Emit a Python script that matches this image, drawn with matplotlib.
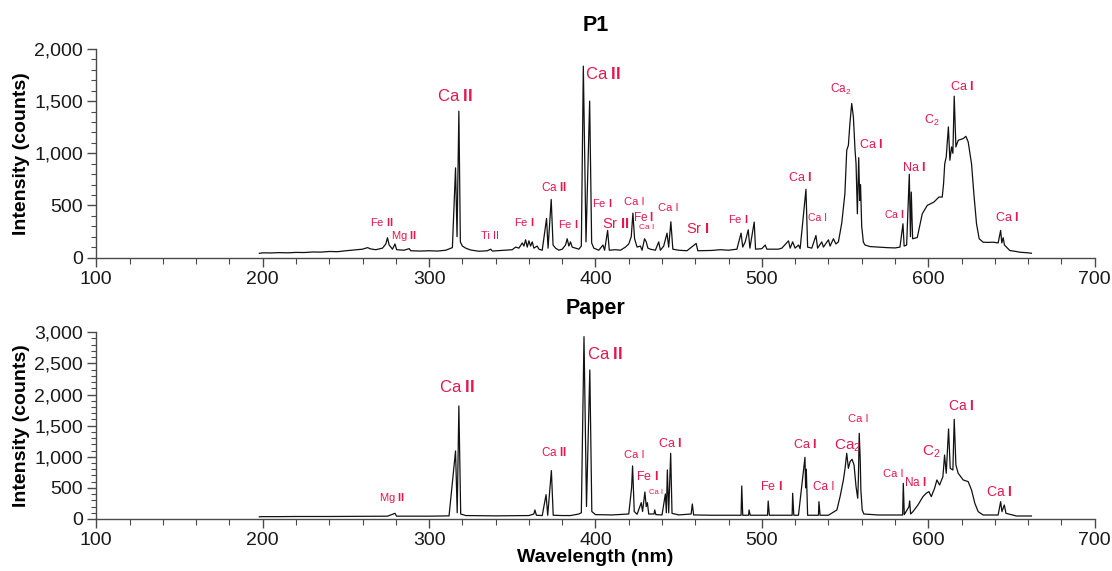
import matplotlib
matplotlib.use("Agg")
import matplotlib.pyplot as plt
from matplotlib.ticker import MultipleLocator, FuncFormatter

plt.rcParams['font.family'] = ['Liberation Sans', 'DejaVu Sans']
plt.rcParams['mathtext.fontset'] = 'custom'
plt.rcParams['mathtext.rm'] = 'Liberation Sans'
plt.rcParams['mathtext.bf'] = 'Liberation Sans:bold'
plt.rcParams['mathtext.it'] = 'Liberation Sans:italic'

# ---------------- data: P1 spectrum ----------------
wl_p1 = [198, 200, 205, 210, 215, 220, 225, 230, 235, 240, 245, 250, 255, 260, 263, 265, 268, 272, 274, 275, 276, 278,
         279.5, 280.5, 285, 288, 289, 295, 300, 305, 310, 314, 315.9, 316.8, 317.9, 318.8,
         320, 322, 325, 330, 335, 337, 338, 345, 350, 352, 354, 356, 357, 358, 359, 360,
         361, 362, 363, 365, 366, 368, 370.6, 371.5, 373.4, 374.5, 376, 378, 380, 382,
         383, 384, 385, 386, 388, 390, 391.5, 392.7, 394.3, 396.5, 397.7, 399, 402, 404.5,
         405.5, 407.3, 408.3, 412, 415, 418, 420, 421.5, 422.5, 423.5, 425, 427, 428,
         429.5, 430.5, 431.5, 433, 436, 438, 439, 441, 443, 444, 445.3, 446.5, 450, 455,
         460.5, 461.5, 470, 475, 480, 485, 487.5, 488.5, 490, 491.8, 492.8, 495.4, 496.2, 500,
         502, 503, 510, 512, 516, 517, 518.5, 520, 522, 523, 526.5, 527.5, 530, 532.5,
         533.5, 536, 537, 540, 541, 543, 544.5, 546, 548, 549.9, 551, 552, 552.9, 554,
         555, 556, 556.6, 557.4, 558.2, 558.8, 559.3, 560, 561, 562, 565, 570, 575, 580,
         583, 584.8, 585.5, 587, 588.6, 589.3, 589.8, 590.6, 593.4, 596.4, 599.4, 603.4,
         606.4, 608.4, 609.2, 609.9, 610.8, 612.1, 613, 614, 614.8, 615.6, 616.6, 618,
         621, 622.6, 624, 626, 627.4, 629, 630.6, 633, 636, 639, 642, 643.5, 644.2, 645,
         645.8, 649, 652, 655, 660, 662]
int_p1 = [40, 45, 44, 47, 45, 49, 48, 53, 52, 58, 56, 65, 72, 80, 95, 82, 75, 90, 130, 190, 120, 80,
          130, 75, 70, 85, 65, 62, 65, 62, 70, 95, 860, 200, 1404, 150,
          110, 90, 72, 60, 65, 80, 62, 70, 75, 100, 90, 140, 110, 170, 100, 160,
          110, 150, 90, 110, 80, 70, 375, 90, 557, 120, 90, 70, 80, 120,
          180, 110, 150, 100, 90, 80, 110, 1836, 150, 1500, 140, 90, 70, 120,
          70, 260, 70, 75, 70, 100, 130, 200, 426, 180, 100, 110, 70,
          180, 150, 90, 80, 70, 150, 70, 110, 234, 100, 343, 80, 70, 65,
          135, 65, 68, 75, 70, 80, 234, 100, 150, 266, 90, 340, 80, 85,
          120, 80, 80, 90, 160, 90, 150, 90, 120, 85, 654, 100, 90, 211,
          90, 150, 100, 170, 110, 180, 130, 150, 330, 612, 1029, 1077, 1285, 1478,
          1349, 1029, 900, 420, 958, 548, 700, 300, 147, 120, 105, 100, 95, 92,
          100, 324, 110, 120, 798, 200, 628, 180, 192, 420, 500, 532,
          580, 580, 708, 900, 965, 1253, 933, 1061, 1000, 1548, 1061, 1125,
          1141, 1163, 1109, 900, 612, 324, 180, 147, 145, 147, 140, 260, 140, 190,
          120, 67, 60, 51, 45, 41]

# ---------------- data: Paper spectrum ----------------
wl_paper = [198, 200, 210, 220, 240, 260, 275, 279.5, 280.5, 300, 312, 315.9, 316.9, 317.9,
            319, 322, 340, 360, 363, 363.6, 364.5, 368, 370.3, 371.3, 373.5, 374.6, 380,
            385, 390, 391.5, 393.1, 394.6, 396.6, 397.8, 400, 410, 420, 421.7, 422.3,
            423.3, 425, 427.5, 428.3, 429.7, 430.5, 431.2, 432, 435.2, 435.6, 436.3, 440,
            442, 442.6, 443.2, 444, 445.2, 446, 450, 457.5, 458.2, 459, 470, 480, 487.5,
            487.9, 488.5, 492, 492.3, 493, 500, 503.4, 503.8, 504.5, 515, 518.2, 518.5,
            519.2, 522, 525.9, 526.3, 526.7, 527.5, 530, 534, 534.3, 535, 540, 545.1, 547,
            549, 550, 551, 552, 553, 554.2, 555.4, 556.6, 557.6, 558, 558.5, 559.1, 559.5,
            560.3, 561.3, 570, 580, 584.6, 585, 585.6, 588.4, 588.8, 589.4, 590.8, 593.8,
            596.8, 598.8, 600.4, 601.8, 603.8, 605.2, 606.8, 608.8, 609.8, 610.8, 612.2,
            613.2, 614.8, 615.6, 616.6, 618, 621, 624, 626, 628, 630, 633, 642, 643.5,
            644.3, 645.7, 646.7, 653, 662]
int_paper = [35, 38, 38, 40, 40, 42, 45, 91, 45, 45, 50, 1093, 100, 1816,
             80, 55, 50, 55, 80, 145, 60, 55, 391, 60, 777, 60, 55,
             55, 80, 100, 2930, 200, 2394, 120, 70, 65, 80, 500, 852,
             120, 75, 262, 120, 434, 200, 262, 80, 80, 145, 70, 65,
             402, 100, 787, 100, 1055, 90, 65, 80, 241, 65, 60, 60, 60,
             530, 60, 60, 145, 60, 60, 60, 289, 60, 60, 60, 413,
             60, 60, 991, 500, 800, 60, 60, 60, 278, 60, 60, 145, 359,
             627, 814, 1055, 814, 921, 959, 868, 519, 333, 627, 1377, 964, 466,
             145, 80, 64, 64, 64, 573, 70, 198, 289, 80, 118, 225,
             359, 413, 440, 359, 493, 627, 546, 680, 1028, 734, 1446,
             814, 787, 1602, 868, 734, 627, 600, 466, 252, 118, 64, 64, 278,
             118, 225, 91, 48, 48]

x_ticks = [100, 200, 300, 400, 500, 600, 700]

# annotation labels: (wavelength, intensity, text, fontsize)
labels_p1 = [
    (271.8, 336, r'Fe $\mathbf{II}$', 8),
    (284.9, 211, r'Mg $\mathbf{II}$', 8),
    (315.6, 1548, r'Ca $\mathbf{II}$', 12),
    (336.6, 202, r'Ti II', 8),
    (375.1, 673, r'Ca $\mathbf{II}$', 8.5),
    (357.0, 337, r'Fe $\mathbf{I}$', 8),
    (383.5, 317, r'Fe $\mathbf{I}$', 8),
    (404.5, 1760, r'Ca $\mathbf{II}$', 12),
    (403.9, 519, r'Fe $\mathbf{I}$', 8),
    (412.3, 317, r'Sr $\mathbf{II}$', 10.5),
    (423.2, 529, r'Ca I', 8),
    (429.2, 385, r'Fe $\mathbf{I}$', 8.5),
    (431.0, 288, r'Ca I', 6),
    (443.6, 471, r'Ca I', 8),
    (461.6, 269, r'Sr $\mathbf{I}$', 10.5),
    (485.6, 365, r'Fe $\mathbf{I}$', 8),
    (547.5, 1615, r'Ca$_2$', 8.5),
    (522.9, 769, r'Ca $\mathbf{I}$', 9),
    (533.7, 375, r'Ca I', 7.5),
    (565.5, 1087, r'Ca $\mathbf{I}$', 9),
    (591.4, 865, r'Na $\mathbf{I}$', 9),
    (579.3, 413, r'Ca $\mathbf{I}$', 7.5),
    (602.2, 1317, r'C$_2$', 9),
    (620.2, 1644, r'Ca $\mathbf{I}$', 9),
    (647.3, 385, r'Ca $\mathbf{I}$', 9),
]
labels_paper = [
    (277.8, 337, r'Mg $\mathbf{II}$', 8),
    (316.8, 2121, r'Ca $\mathbf{II}$', 12),
    (375.1, 1061, r'Ca $\mathbf{II}$', 8.5),
    (405.7, 2652, r'Ca $\mathbf{II}$', 12),
    (423.2, 1028, r'Ca I', 8),
    (431.0, 675, r'Fe $\mathbf{I}$', 9),
    (436.5, 418, r'Ca I', 5.5),
    (444.8, 1205, r'Ca $\mathbf{I}$', 9),
    (505.5, 514, r'Fe $\mathbf{I}$', 9),
    (525.8, 1189, r'Ca $\mathbf{I}$', 9),
    (537.2, 514, r'Ca I', 8.5),
    (551.7, 1173, r'Ca$_2$', 11),
    (557.7, 1607, r'Ca I', 8),
    (578.7, 723, r'Ca I', 8),
    (592.0, 579, r'Na $\mathbf{I}$', 8.5),
    (601.6, 1077, r'C$_2$', 11),
    (619.6, 1816, r'Ca $\mathbf{I}$', 10),
    (642.5, 434, r'Ca $\mathbf{I}$', 10),
]

LABEL_COLOR = '#E5184E'
SPINE = '#4a4a4a'

fig = plt.figure(figsize=(11.12, 5.71), dpi=100)
ax1 = fig.add_axes([0.0866, 0.549, 0.8978, 0.3651])
ax2 = fig.add_axes([0.0866, 0.0911, 0.8978, 0.327])

fmt = FuncFormatter(lambda v, p: f'{int(v):,}')

def style(ax, ymax, title, labels, wl, inten):
    ax.plot(wl, inten, color='#111111', lw=0.9)
    ax.set_xlim(100, 700)
    ax.set_ylim(0, ymax)
    ax.set_xticks(x_ticks)
    ax.xaxis.set_minor_locator(MultipleLocator(20))
    ax.yaxis.set_major_locator(MultipleLocator(500))
    ax.yaxis.set_minor_locator(MultipleLocator(100))
    ax.yaxis.set_major_formatter(fmt)
    for s in ('top', 'right'):
        ax.spines[s].set_visible(False)
    for s in ('left', 'bottom'):
        ax.spines[s].set_color(SPINE)
        ax.spines[s].set_linewidth(1.0)
    ax.tick_params(which='major', length=6.5, width=1.0, color=SPINE,
                   labelsize=14, labelcolor='#1a1a1a', pad=3)
    ax.tick_params(axis='y', which='minor', length=3.6, width=0.8, color=SPINE)
    ax.tick_params(axis='x', which='minor', length=4.3, width=0.8, color=SPINE)
    ax.set_ylabel('Intensity (counts)', fontsize=14, fontweight='bold', labelpad=3)
    ax.set_title(title, fontsize=15.5, fontweight='bold', pad=13)
    for x, y, t, fs in labels:
        ax.text(x, y, t, color=LABEL_COLOR, fontsize=fs, ha='center', va='center')

style(ax1, 2000, 'P1', labels_p1, wl_p1, int_p1)
style(ax2, 3000, 'Paper', labels_paper, wl_paper, int_paper)
ax2.set_xlabel('Wavelength (nm)', fontsize=14, fontweight='bold', labelpad=0)

fig.savefig('out.png', dpi=100)
